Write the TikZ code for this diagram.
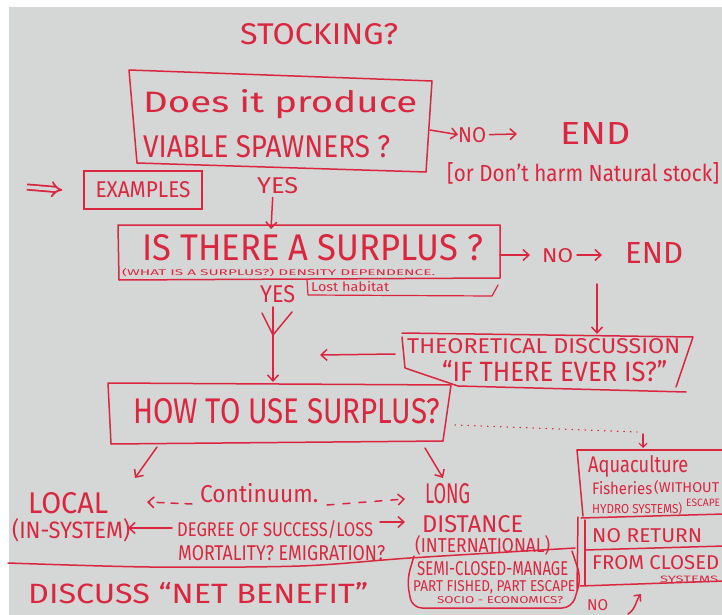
\documentclass[tikz,border=0pt]{standalone}
\usepackage{graphicx}
\usepackage{fontspec}
\setmainfont{Fira Sans}
\usetikzlibrary{arrows.meta}
\definecolor{ink}{RGB}{218,38,62}
\definecolor{board}{RGB}{212,215,214}
% text squeezed to a given width and height (pt)
\newcommand{\hw}[3]{\resizebox{#1pt}{#2pt}{#3}}
\begin{document}
\begin{tikzpicture}[x=1pt,y=-1pt,
  pen/.style={draw=ink, line width=1.5pt, line cap=round, line join=round},
  arr/.style={pen, -{Straight Barb[length=6pt,width=11pt]}},
  txt/.style={anchor=base west, inner sep=0pt, text=ink},
]
\useasboundingbox (0,0) rectangle (722,615);
\clip (0,0) rectangle (722,615);
\fill[white] (0,0) rectangle (722,615);
\fill[board] (9,7) rectangle (722,615);

% title
\node[txt] (title) at (240,45) {\hw{158}{21}{STOCKING?}};

% first question
\coordinate (b1a) at (129,70);
\coordinate (b1b) at (432,81);
\coordinate (b1c) at (426,172);
\coordinate (b1d) at (137,163);
\draw[pen] (b1a) -- (b1b) -- (b1c) -- (b1d) -- cycle;
\node[txt] (q1a) at (143,112) {\hw{274}{23}{Does it produce}};
\node[txt] (q1b) at (143,157) {\hw{247}{22}{VIABLE SPAWNERS ?}};

\coordinate (n1s) at (430,130);
\node[txt] (no1) at (458,142) {\hw{28}{15}{NO}};
\node[txt] (end1) at (560,145) {\hw{70}{22}{END}};
\coordinate (n1e) at (517,134);
\draw[arr] (n1s) -- (no1.west);
\draw[arr] (no1.east) ++(3,0) coordinate (n1m) (n1m) -- (n1e);
\node[txt] (harm) at (447,181) {\hw{272}{19}{[or Don't harm Natural stock]}};

% examples
\node[draw=ink, line width=1.5pt, minimum width=118pt, minimum height=38pt, inner sep=0pt, text=ink] (ex) at (143,190) {\hw{95}{16}{EXAMPLES}};
\coordinate (dbl) at (27,187);
\draw[draw=ink, line width=1.8pt, double=board, double distance=3.5pt, -{Implies}] (dbl) -- ([xshift=-21pt]ex.west);

\node[txt] (yes1) at (257,193) {\hw{41}{16}{YES}};
\coordinate (b2t) at (271,229);
\draw[arr] ([xshift=-5pt,yshift=-4pt]yes1.south) -- (b2t);

% second question
\coordinate (b2a) at (118,225);
\coordinate (b2b) at (500,225);
\coordinate (b2c) at (500,278);
\coordinate (b2d) at (119,280);
\draw[pen] (b2a) -- (b2b) -- (b2c) -- (b2d) -- cycle;
\node[txt] (q2) at (142,260) {\hw{341}{26}{IS THERE A SURPLUS ?}};
\node[txt] (q2note) at (122,275) {\hw{313}{7}{(WHAT IS A SURPLUS?) DENSITY DEPENDENCE.}};
\draw[pen, line width=1.2pt] (307,280) -- (308,295) -- (492,296) -- (498,285);
\node[txt] (lost) at (311,291) {\hw{78}{10}{Lost habitat}};

\coordinate (n2s) at (500,255);
\node[txt] (no2) at (542,262) {\hw{31}{14}{NO}};
\node[txt] (end2) at (625,263) {\hw{58}{21}{END}};
\draw[arr] (n2s) -- (530,255) coordinate (n2a);
\draw[arr] (577,255) coordinate (n2b) -- (602,255);
\coordinate (d2s) at (597,284);
\coordinate (b3t) at (597,334);
\draw[arr] (d2s) -- (b3t);

% theoretical discussion
\draw[pen] (402,333) -- (693,337) -- (676,387);
\draw[pen] (686,392) -- (458,386) -- (405,368) -- (402,337);
\node[txt] (td1) at (407,353) {\hw{273}{15}{THEORETICAL DISCUSSION}};
\node[txt] (td2) at (442,381) {\hw{225}{21}{“IF THERE EVER IS?”}};
\coordinate (tdl) at (395,354);
\coordinate (tdr) at (320,355);
\draw[arr] (tdl) -- (tdr);

\node[txt] (yes2) at (260,302) {\hw{35}{17}{YES}};
\coordinate (y2s) at (273,307);
\coordinate (b4t) at (273,382);
\draw[arr] (y2s) -- (b4t);
\draw[pen] (262,313) -- (273,335) -- (292,312);

% how to use the surplus
\coordinate (b4a) at (108,383);
\coordinate (b4b) at (451,385);
\coordinate (b4c) at (443,441);
\coordinate (b4d) at (111,444);
\draw[pen] (b4a) -- (b4b) -- (b4c) -- (b4d) -- cycle;
\node[txt] (q3) at (133,423) {\hw{307}{25}{HOW TO USE SURPLUS?}};

\coordinate (dts) at (455,425);
\coordinate (dte) at (637,432);
\draw[ink, line width=1.3pt, line cap=round, dash pattern=on 0.5pt off 6pt] (dts) -- (dte);
\draw[pen, line width=1.2pt, -{Straight Barb[length=4pt,width=8pt]}] (643,434) coordinate (aqd) -- (643,448);

\draw[arr] (157,447) coordinate (lfs) -- (135,478) coordinate (lfe);
\draw[arr] (425,448) coordinate (rts) -- (443,478) coordinate (rte);

% local versus long distance
\node[txt] (local) at (28,513) {\hw{80}{21}{LOCAL}};
\node[txt] (insys) at (12,538) {\hw{118}{20}{(IN-SYSTEM)}};
\node[txt] (cont) at (200,502) {\hw{118}{19}{Continuum.}};
\draw[arr, dash pattern=on 7pt off 7pt] (192,504) coordinate (cl) -- (147,502);
\draw[arr, dash pattern=on 7pt off 9pt] (327,505) coordinate (cr) -- (405,499);
\node[txt] (deg) at (177,536) {\hw{196}{16}{DEGREE OF SUCCESS/LOSS}};
\draw[arr] (172,528) coordinate (dgl) -- (128,528);
\draw[arr] (380,522) coordinate (dgr) -- (405,522);
\node[txt] (mort) at (178,560) {\hw{207}{15}{MORTALITY? EMIGRATION?}};

\node[txt] (long) at (425,503) {\hw{45}{20}{LONG}};
\node[txt] (dist) at (422,532) {\hw{101}{17}{DISTANCE}};
\node[txt] (intl) at (415,552) {\hw{135}{17}{(INTERNATIONAL)}};

\draw[pen] plot[smooth] coordinates {(8,563) (150,567) (300,566) (410,558) (575,548)};

\node[txt] (disc) at (28,603) {\hw{340}{21}{DISCUSS “NET BENEFIT”}};

% semi-closed bracket
\draw[pen, rounded corners=10pt] (414,556) -- (407,580) -- (412,608) -- (572,608) -- (581,578) -- (572,551);
\node[txt] (semi) at (417,575) {\hw{151}{14}{SEMI-CLOSED-MANAGE}};
\node[txt] (part) at (413,591) {\hw{162}{11}{PART FISHED, PART ESCAPE}};
\node[txt] (socio) at (437,603) {\hw{126}{7}{SOCIO - ECONOMICS?}};

% closed systems column
\draw[pen] (577,450) -- (724,450);
\draw[pen] (577,450) -- (583,516);
\draw[pen] (581,518) -- (724,514);
\draw[pen] (578,517) -- (577,590);
\draw[pen] (585,520) -- (585,585);
\draw[pen] (585,550) -- (724,546);
\draw[pen] (580,586) -- (724,581);
\node[txt] (aqua) at (588,472) {\hw{100}{17}{Aquaculture}};
\node[txt] (fish) at (592,494) {\hw{60}{13}{Fisheries}};
\node[txt] (without) at (654,492) {\hw{65}{12}{(WITHOUT}};
\node[txt] (escape) at (686,506) {\hw{34}{7.5}{ESCAPE}};
\node[txt] (hydro) at (592,513) {\hw{90}{11}{HYDRO SYSTEMS)}};
\node[txt] (noret) at (592,542) {\hw{110}{14}{NO RETURN}};
\node[txt] (from) at (592,569) {\hw{127}{14}{FROM CLOSED}};
\node[txt] (systems) at (660,582) {\hw{58}{6.5}{SYSTEMS}};

\node[txt] (no3) at (587,610) {\hw{21}{11}{NO}};
\draw[pen, -{Straight Barb[length=5pt,width=9pt]}] (628,614) coordinate (up) .. controls (636,609) and (636,600) .. (641,594);
\end{tikzpicture}
\end{document}
